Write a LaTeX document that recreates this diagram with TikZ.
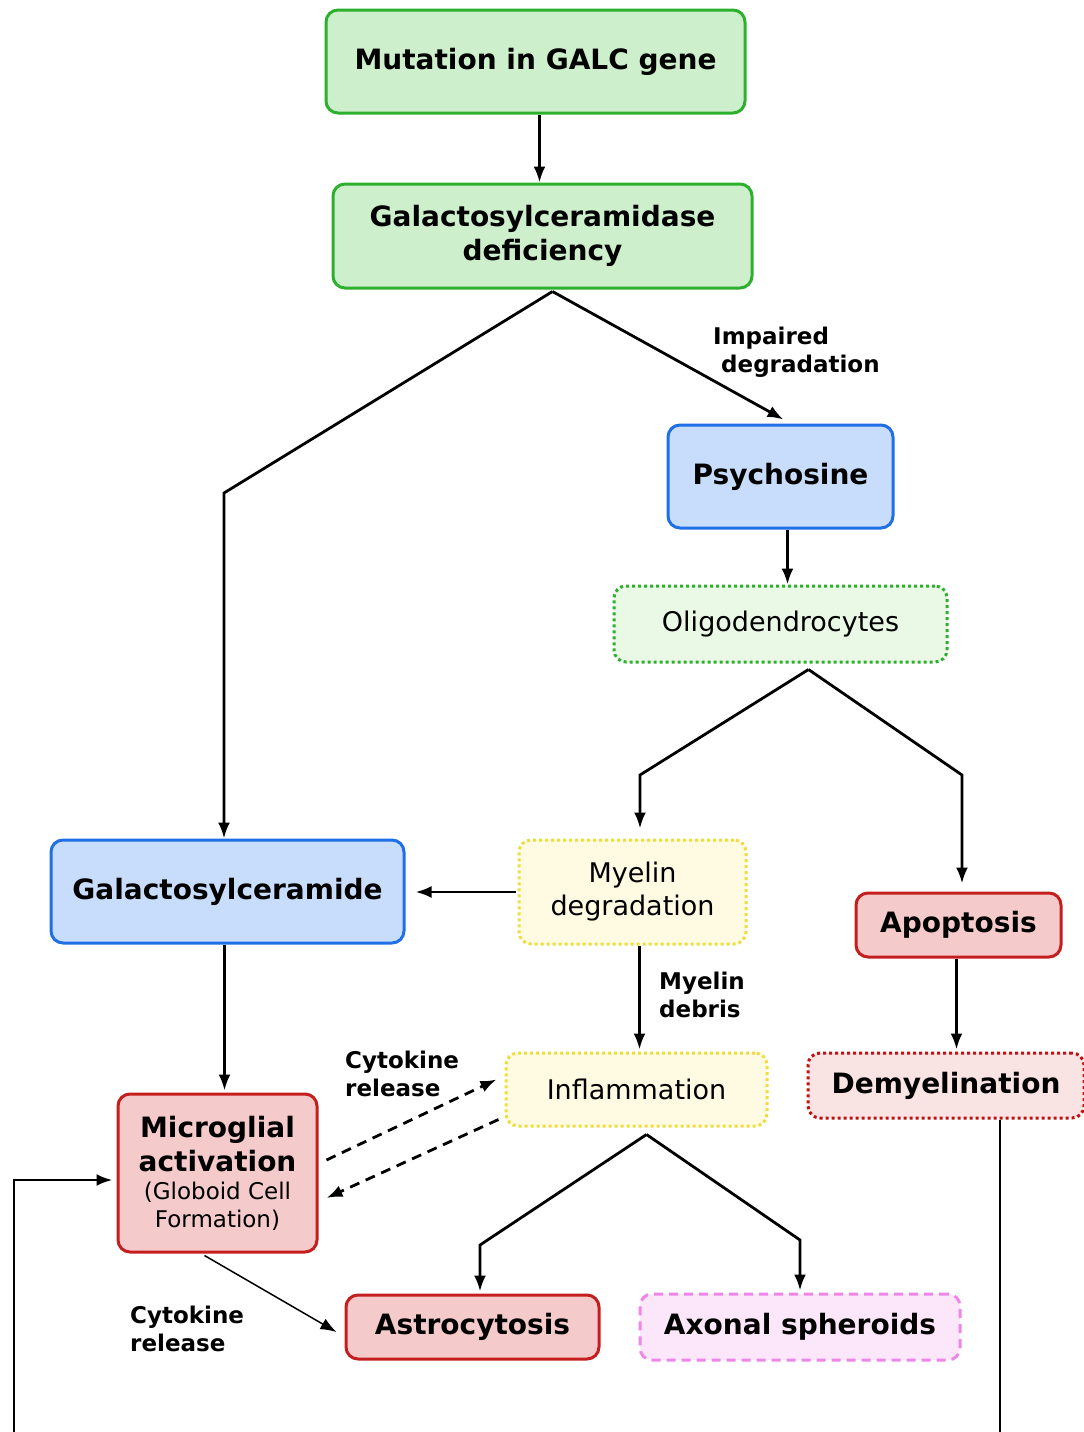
\documentclass[tikz,border=0pt]{standalone}
\usepackage{fontspec}
\setmainfont{DejaVu Sans}
\usetikzlibrary{positioning,arrows.meta,calc}

\definecolor{gfill}{HTML}{CDEFCB}
\definecolor{gline}{HTML}{2DB02D}
\definecolor{bfill}{HTML}{C8DCFB}
\definecolor{bline}{HTML}{1F6FE6}
\definecolor{rfill}{HTML}{F4CACA}
\definecolor{rline}{HTML}{C41E1E}
\definecolor{yfill}{HTML}{FFFBE2}
\definecolor{yline}{HTML}{EEDD3A}
\definecolor{ofill}{HTML}{EAF8E6}
\definecolor{dfill}{HTML}{FAE3E3}
\definecolor{dline}{HTML}{C01010}
\definecolor{pfill}{HTML}{FCE6FA}
\definecolor{pline}{HTML}{EE86EA}

\newcommand{\subtxt}[1]{{\mdseries\fontsize{23}{28}\selectfont #1}}

\begin{document}
\begin{tikzpicture}[x=1pt, y=-1pt,
  box/.style={rounded corners=12pt, line width=3pt, inner sep=0pt, align=center},
  bold/.style={font=\fontsize{28}{34}\selectfont\bfseries},
  thin/.style={font=\fontsize{27}{33}\selectfont},
  greenbox/.style={box, bold, draw=gline, fill=gfill},
  bluebox/.style={box, bold, draw=bline, fill=bfill},
  redbox/.style={box, bold, draw=rline, fill=rfill},
  dotgreen/.style={box, thin, draw=gline, fill=ofill, dash pattern=on 3pt off 3pt},
  dotyellow/.style={box, thin, draw=yline, fill=yfill, dash pattern=on 3pt off 3pt},
  dotred/.style={box, bold, draw=dline, fill=dfill, dash pattern=on 3pt off 3pt},
  dashpink/.style={box, bold, draw=pline, fill=pfill, dash pattern=on 9pt off 6pt},
  arr/.style={line width=2.8pt, -{Latex[length=16pt,width=12pt]}},
  dasharr/.style={arr, dash pattern=on 10pt off 7pt},
  tag/.style={font=\fontsize{23}{28}\selectfont\bfseries, anchor=west, align=left, inner sep=0pt}]
\useasboundingbox (0,0) rectangle (1084,1432);

% boxes
\node[greenbox, minimum width=419pt, minimum height=103pt] (mut) at (535.5,61.5) {Mutation in GALC gene};
\node[greenbox, minimum width=419pt, minimum height=104pt] (gdef) at (542.5,236) {Galactosylceramidase\\deficiency};
\node[bluebox, minimum width=225pt, minimum height=103pt] (psy) at (780.5,476.5) {Psychosine};
\node[dotgreen, minimum width=333pt, minimum height=76pt] (oligo) at (780.5,624) {Oligodendrocytes};
\node[bluebox, minimum width=353pt, minimum height=103pt] (gcer) at (227.5,891.5) {Galactosylceramide};
\node[dotyellow, minimum width=227pt, minimum height=104pt] (myel) at (632.5,892) {Myelin\\degradation};
\node[redbox, minimum width=205pt, minimum height=64pt] (apop) at (958.5,925) {Apoptosis};
\node[dotyellow, minimum width=261pt, minimum height=73pt] (infl) at (636.5,1089.5) {Inflammation};
\node[dotred, minimum width=276pt, minimum height=65pt] (demy) at (946,1085.5) {Demyelination};
\node[redbox, minimum width=199pt, minimum height=158pt] (micro) at (217.5,1173)
  {Microglial\\activation\\[-6pt]\subtxt{(Globoid Cell}\\[-6pt]\subtxt{Formation)}};
\node[redbox, minimum width=253pt, minimum height=64pt] (astro) at (472.5,1327) {Astrocytosis};
\node[dashpink, minimum width=320pt, minimum height=66pt] (axon) at (800,1327) {Axonal spheroids};

% bends
\coordinate (bendL) at (224,493);
\coordinate (bendM) at (640,775);
\coordinate (bendR) at (962,775);
\coordinate (bendA) at (480,1245);
\coordinate (bendS) at (800,1240);
\coordinate (loopR) at (1000,1432);
\coordinate (loopL) at (14,1432);

% top part
\draw[arr] ([xshift=4pt]mut.south) -- ([xshift=4pt]mut.south |- gdef.north);
\draw[arr] ([xshift=10pt,yshift=-2pt]gdef.south) -- (bendL) -- (bendL |- gcer.north);
\draw[arr] ([xshift=10pt,yshift=-2pt]gdef.south) -- ([xshift=3pt,yshift=4pt]psy.north);
\node[tag] (impl) at (713,352) {Impaired\\\hspace{8pt}degradation};
\draw[arr] ([xshift=7pt]psy.south) -- ([xshift=7pt]psy.south |- oligo.north);
\draw[arr] ([xshift=28pt,yshift=-6pt]oligo.south) -- (bendM) -- ([yshift=10pt]bendM |- myel.north);
\draw[arr] ([xshift=28pt,yshift=-6pt]oligo.south) -- (bendR) -- ([yshift=8pt]bendR |- apop.north);

% middle
\draw[arr, shorten >=10pt] ([xshift=-2pt]myel.west) -- (myel.west -| gcer.east);
\draw[arr] ([xshift=7pt]myel.south) -- ([xshift=7pt,yshift=2pt]myel.south |- infl.north);
\node[tag] (debris) at (659,995) {Myelin\\debris};
\draw[arr] ([xshift=-2pt]apop.south) -- ([xshift=-2pt,yshift=2pt]apop.south |- demy.north);
\draw[arr] ([xshift=-3pt]gcer.south) -- ([xshift=-3pt,yshift=2pt]gcer.south |- micro.north);

% cytokine loop
\draw[dasharr] ([xshift=8pt,yshift=13pt]micro.east) -- ([xshift=-8pt,yshift=10pt]infl.west);
\draw[dasharr] ([xshift=-6pt,yshift=-30pt]infl.west) -- ([xshift=8pt,yshift=-25pt]micro.east);
\node[tag] (cyto1) at (345,1074) {Cytokine\\release};

% bottom
\draw[arr] ([xshift=10pt,yshift=-7pt]infl.south) -- (bendA) -- ([yshift=2pt]bendA |- astro.north);
\draw[arr] ([xshift=10pt,yshift=-7pt]infl.south) -- (bendS) -- ([yshift=2pt]bendS |- axon.north);
\draw[line width=1.5pt, -{Latex[length=16pt,width=12pt]}] ([xshift=-13pt,yshift=-2pt]micro.south) -- ([xshift=-8pt,yshift=-5pt]astro.west);
\node[tag] (cyto2) at (130,1329) {Cytokine\\release};
\draw[line width=2.8pt] ([xshift=54pt]demy.south) -- (loopR);
\draw[arr, shorten >=4pt] (loopL) |- ([yshift=-7pt]micro.west);
\end{tikzpicture}
\end{document}
